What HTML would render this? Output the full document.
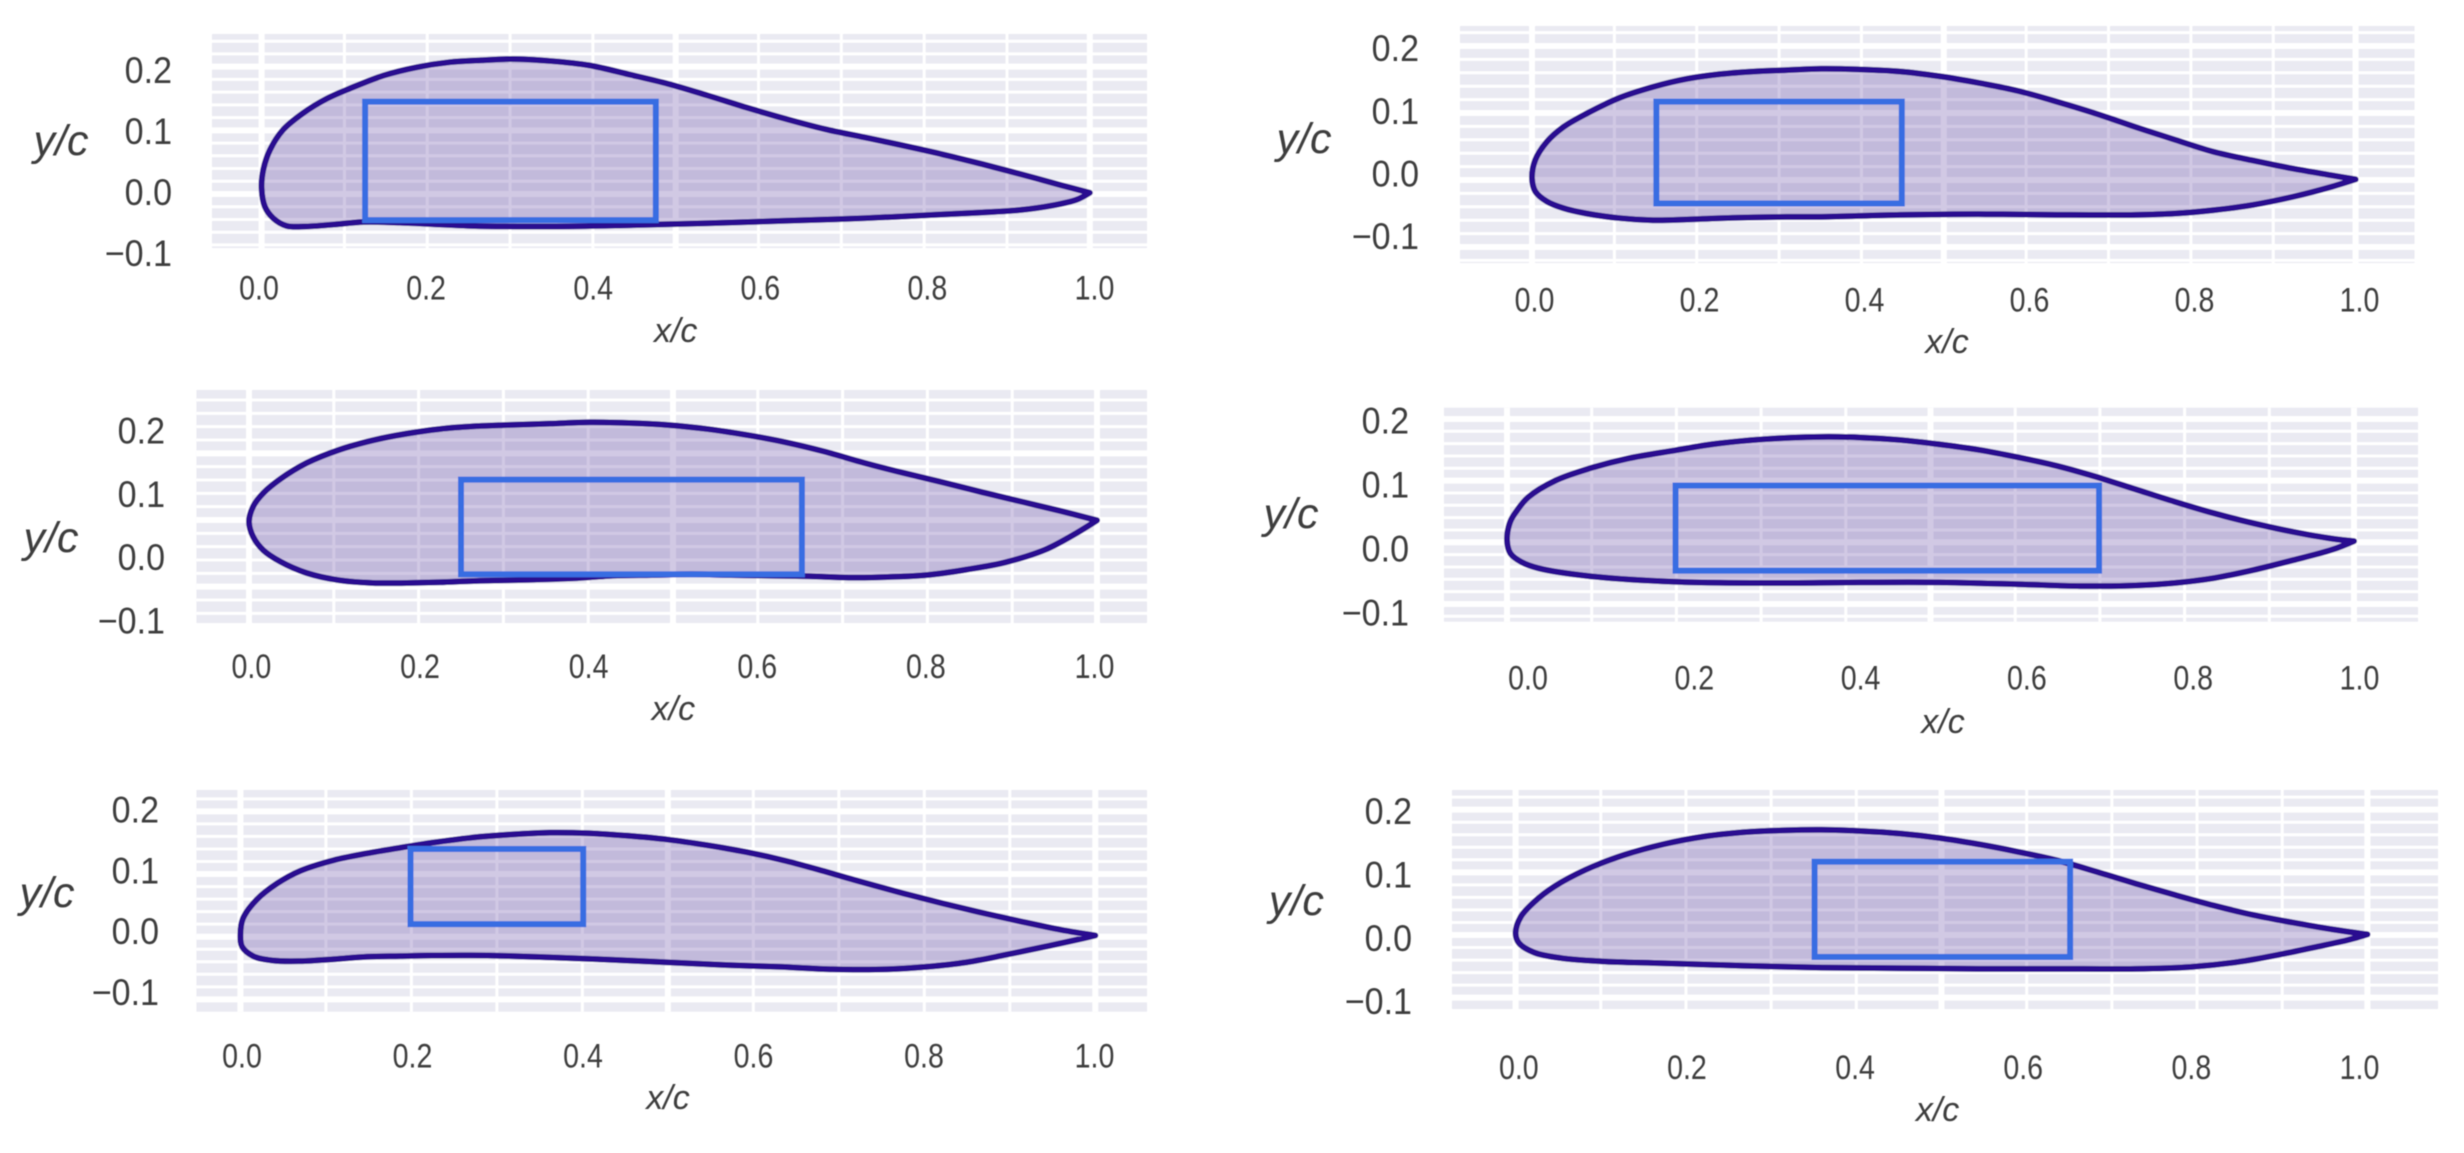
<!DOCTYPE html>
<html>
<head>
<meta charset="utf-8">
<title>Airfoil shapes with inner boxes</title>
<style>
html,body{margin:0;padding:0;background:#fff;width:2464px;height:1153px;overflow:hidden}
svg{display:block}
text{font-family:"Liberation Sans",sans-serif;fill:#3c3c3c}
</style>
</head>
<body>
<svg id="figure" width="2464" height="1153" viewBox="0 0 2464 1153" xmlns="http://www.w3.org/2000/svg">
<defs><filter id="soft" x="-3%" y="-3%" width="106%" height="106%"><feGaussianBlur stdDeviation="0.6"/></filter></defs>
<rect width="2464" height="1153" fill="#ffffff"/>
</svg>
<script>
const xTicks = [0, 0.2, 0.4, 0.6, 0.8, 1.0];
const xTickLabels = ["0.0", "0.2", "0.4", "0.6", "0.8", "1.0"];
const yTicks = [0.2, 0.1, 0, -0.1];
const yTickLabels = ["0.2", "0.1", "0.0", "\u22120.1"];
const xAxisTitle = "x/c";
const yAxisTitle = "y/c";

const panel1X = [0,.002,.010,.026,.050,.079,.107,.147,.187,.227,.265,.301,.348,.396,.443,.491,.538,.585,.633,.680,.728,.775,.823,.870,.917,.965,1,.984,.955,.917,.870,.823,.728,.633,.538,.443,.348,.253,.167,.123,.087,.054,.030,.014,.004];
const panel1Y = [.009,.038,.069,.101,.127,.150,.166,.186,.199,.207,.210,.212,.209,.202,.188,.173,.155,.136,.118,.102,.089,.076,.062,.047,.031,.014,.002,-.009,-.018,-.025,-.029,-.032,-.038,-.042,-.046,-.049,-.051,-.050,-.045,-.044,-.048,-.051,-.050,-.038,-.020];
const panel1Box = [.125,.476,-.041,.145];

const panel2X = [0,.004,.018,.038,.066,.107,.147,.188,.228,.269,.309,.351,.399,.447,.494,.542,.590,.637,.685,.733,.781,.828,.876,.924,.971,1,.971,.924,.876,.828,.781,.733,.637,.542,.447,.351,.309,.228,.188,.147,.107,.066,.038,.018,.004];
const panel2Y = [.003,.030,.057,.079,.099,.123,.139,.151,.158,.162,.164,.166,.165,.162,.155,.145,.133,.117,.099,.079,.060,.042,.029,.017,.007,.001,-.010,-.025,-.037,-.045,-.050,-.052,-.052,-.051,-.052,-.055,-.055,-.057,-.059,-.060,-.057,-.050,-.042,-.032,-.017];
const panel2Box = [.151,.449,-.035,.117];

const panel3X = [0,.005,.017,.037,.068,.107,.146,.186,.225,.265,.304,.355,.401,.448,.494,.540,.587,.633,.679,.726,.772,.818,.865,.911,.957,1,.976,.939,.892,.846,.800,.753,.707,.661,.614,.568,.522,.475,.429,.383,.336,.304,.265,.225,.186,.146,.107,.068,.037,.017,.005];
const panel3Y = [.055,.078,.098,.119,.143,.163,.177,.187,.194,.198,.200,.202,.204,.203,.200,.194,.185,.174,.160,.143,.128,.114,.099,.085,.071,.057,.038,.013,-.006,-.017,-.025,-.028,-.029,-.027,-.026,-.025,-.024,-.025,-.026,-.030,-.032,-.033,-.034,-.036,-.037,-.037,-.033,-.022,-.005,.012,.032];
const panel3Box = [.250,.652,-.024,.118];

const panel4X = [0,.004,.012,.025,.057,.098,.143,.198,.242,.301,.371,.417,.464,.510,.557,.603,.649,.696,.742,.788,.835,.881,.928,.974,1,.974,.928,.881,.835,.788,.742,.677,.603,.510,.417,.301,.198,.098,.037,.017,.004];
const panel4Y = [.004,.034,.052,.073,.100,.120,.136,.149,.159,.167,.171,.170,.166,.159,.150,.138,.124,.106,.086,.066,.047,.031,.017,.006,.002,-.012,-.029,-.045,-.058,-.066,-.070,-.071,-.068,-.065,-.065,-.066,-.064,-.055,-.042,-.032,-.018];
const panel4Box = [.199,.699,-.046,.092];

const panel5X = [0,.003,.019,.043,.070,.109,.148,.187,.224,.270,.316,.362,.408,.454,.500,.546,.592,.638,.684,.730,.776,.822,.868,.914,.960,1,.978,.941,.895,.849,.803,.757,.693,.629,.564,.500,.436,.362,.289,.224,.187,.148,.109,.070,.038,.015,.002];
const panel5Y = [.003,.029,.059,.085,.105,.122,.133,.142,.150,.158,.163,.166,.165,.161,.155,.146,.135,.121,.104,.086,.069,.053,.038,.024,.011,.002,-.005,-.016,-.029,-.041,-.048,-.052,-.052,-.048,-.045,-.041,-.037,-.033,-.030,-.030,-.031,-.032,-.036,-.039,-.038,-.031,-.016];
const panel5Box = [.199,.401,.020,.140];

const panel6X = [0,.006,.022,.045,.082,.128,.174,.220,.267,.313,.359,.405,.451,.497,.543,.589,.636,.682,.728,.774,.820,.866,.912,.959,1,.977,.940,.894,.848,.792,.728,.636,.543,.451,.359,.267,.174,.101,.054,.022,.004];
const panel6Y = [.003,.029,.053,.077,.104,.128,.145,.157,.164,.167,.168,.166,.162,.155,.145,.133,.119,.101,.082,.064,.047,.032,.020,.009,.001,-.008,-.019,-.032,-.043,-.051,-.054,-.054,-.054,-.053,-.052,-.049,-.045,-.042,-.037,-.028,-.013];
const panel6Box = [.351,.651,-.035,.117];

const layouts = [
 {name:'top-left',xs:panel1X,ys:panel1Y,box:panel1Box,bg:[212,34,1147,248],x0:261.6,x1:1089.8,yZero:194,yUnit:636.7,gridZero:194,lblZero:192.7,lblUnit:610,lx0:259,lx1:1094.5,ly:288,yr:172,xt:[675.7,331],yt:[61,141]},
 {name:'top-right',xs:panel2X,ys:panel2Y,box:panel2Box,bg:[1460,26,2414.5,263],x0:1532,x1:2355.6,yZero:180,yUnit:670,gridZero:180,lblZero:174,lblUnit:627,lx0:1534.5,lx1:2359.5,ly:300,yr:1419,xt:[1947,342],yt:[1304,139]},
 {name:'middle-left',xs:panel3X,ys:panel3Y,box:panel3Box,bg:[196.4,390,1147,623],x0:249,x1:1097,yZero:558.3,yUnit:666.7,gridZero:520,lblZero:557.7,lblUnit:633,lx0:251.4,lx1:1094.5,ly:666.7,yr:165,xt:[673.4,709],yt:[51,538]},
 {name:'middle-right',xs:panel4X,ys:panel4Y,box:panel4Box,bg:[1444,407.7,2418,621.7],x0:1507,x1:2354,yZero:542.3,yUnit:616.7,gridZero:542.3,lblZero:549,lblUnit:641,lx0:1528,lx1:2359.5,ly:678,yr:1409,xt:[1943,722],yt:[1291,514]},
 {name:'bottom-left',xs:panel5X,ys:panel5Y,box:panel5Box,bg:[196.4,790,1147,1011.7],x0:240.4,x1:1095.3,yZero:936.7,yUnit:626.7,gridZero:936.7,lblZero:931.7,lblUnit:608,lx0:242,lx1:1094.5,ly:1056,yr:159,xt:[668,1098],yt:[47,893]},
 {name:'bottom-right',xs:panel6X,ys:panel6Y,box:panel6Box,bg:[1452,790,2438,1009],x0:1515.6,x1:2367.4,yZero:935,yUnit:626.7,gridZero:935,lblZero:938.3,lblUnit:633,lx0:1518.8,lx1:2359.5,ly:1067.7,yr:1412,xt:[1937.6,1110],yt:[1296.4,901]}
];

const NS = 'http://www.w3.org/2000/svg';
const figure = document.getElementById('figure');

function make(parent, tag, attrs) {
  const el = document.createElementNS(NS, tag);
  for (const k in attrs) el.setAttribute(k, attrs[k]);
  parent.appendChild(el);
  return el;
}

function smoothPath(pts) {
  let te = 0;
  pts.forEach((p, i) => { if (p[0] > pts[te][0]) te = i; });
  const seq = pts.slice(te).concat(pts.slice(0, te));
  seq.push(seq[0]);
  const dist = (a, b) => Math.pow(Math.hypot(a[0] - b[0], a[1] - b[1]), 0.5);
  let d = 'M' + seq[0][0].toFixed(2) + ' ' + seq[0][1].toFixed(2);
  for (let i = 0; i < seq.length - 1; i++) {
    const p0 = seq[Math.max(i - 1, 0)], p1 = seq[i], p2 = seq[i + 1], p3 = seq[Math.min(i + 2, seq.length - 1)];
    const d1 = dist(p0, p1), d2 = dist(p1, p2), d3 = dist(p2, p3);
    const c1 = [0, 1].map(n => d1 < 1e-6 ? p1[n] :
      (d1 * d1 * p2[n] - d2 * d2 * p0[n] + (2 * d1 * d1 + 3 * d1 * d2 + d2 * d2) * p1[n]) / (3 * d1 * (d1 + d2)));
    const c2 = [0, 1].map(n => d3 < 1e-6 ? p2[n] :
      (d3 * d3 * p1[n] - d2 * d2 * p3[n] + (2 * d3 * d3 + 3 * d3 * d2 + d2 * d2) * p2[n]) / (3 * d3 * (d3 + d2)));
    d += 'C' + c1[0].toFixed(2) + ' ' + c1[1].toFixed(2) + ' ' + c2[0].toFixed(2) + ' ' + c2[1].toFixed(2) + ' ' + p2[0].toFixed(2) + ' ' + p2[1].toFixed(2);
  }
  return d + 'Z';
}

layouts.forEach(function (p) {
  const sx = v => p.x0 + (p.x1 - p.x0) * v;
  const sy = v => p.yZero - p.yUnit * v;
  const gridY = v => p.gridZero - p.yUnit * v;
  const lblY = v => p.lblZero - p.lblUnit * v;

  const g = make(figure, 'g', {filter: 'url(#soft)'});
  
  

  const plot = make(g, 'g', {});
  
  

  const bg = make(plot, 'rect', {x: p.bg[0], y: p.bg[1], width: p.bg[2] - p.bg[0], height: p.bg[3] - p.bg[1], fill: '#eaeaf2'});
  
  

  for (let k = -15; k <= 20; k++) {
    const yy = gridY(k * 0.02);
    if (yy < p.bg[1] || yy > p.bg[3]) continue;
    const major = k % 5 === 0;
    const line = make(plot, 'line', {x1: p.bg[0], x2: p.bg[2], y1: yy, y2: yy, stroke: '#ffffff', 'stroke-width': major ? 6 : 3});
    
    
  }
  for (let k = 0; k <= 10; k++) {
    const major = k % 5 === 0;
    const line = make(plot, 'line', {x1: sx(k / 10), x2: sx(k / 10), y1: p.bg[1], y2: p.bg[3], stroke: '#ffffff', 'stroke-width': major ? 6 : 3});
    
    
  }

  const pts = p.xs.map((x, i) => [sx(x), sy(p.ys[i])]);
  const foil = make(plot, 'path', {d: smoothPath(pts), fill: 'rgba(104,77,165,0.3)', stroke: '#2a0a90', 'stroke-width': 6, 'stroke-linejoin': 'round'});
  
  

  const box = make(plot, 'rect', {x: sx(p.box[0]), y: sy(p.box[3]), width: sx(p.box[1]) - sx(p.box[0]), height: sy(p.box[2]) - sy(p.box[3]), fill: 'none', stroke: '#386de2', 'stroke-width': 6});
  
  

  xTicks.forEach(function (v, i) {
    const px = p.lx0 + (p.lx1 - p.lx0) * v;
    const t = make(g, 'text', {transform: 'translate(' + px + ' ' + p.ly + ') scale(0.84 1)', 'text-anchor': 'middle', 'dominant-baseline': 'central', 'font-size': 34, fill: '#5c5c5c'});
    t.textContent = xTickLabels[i];
    
    
  });
  yTicks.forEach(function (v, i) {
    const t = make(g, 'text', {transform: 'translate(' + p.yr + ' ' + lblY(v) + ') scale(0.92 1)', 'text-anchor': 'end', 'dominant-baseline': 'central', 'font-size': 37});
    t.textContent = yTickLabels[i];
    
    
  });

  const xt = make(g, 'text', {x: p.xt[0], y: p.xt[1], 'text-anchor': 'middle', 'dominant-baseline': 'central', 'font-size': 34, 'font-style': 'italic'});
  xt.textContent = xAxisTitle;
  
  

  const yt = make(g, 'text', {x: p.yt[0], y: p.yt[1], 'text-anchor': 'middle', 'dominant-baseline': 'central', 'font-size': 43, 'font-style': 'italic'});
  yt.textContent = yAxisTitle;
  
  
});
</script>
</body>
</html>
